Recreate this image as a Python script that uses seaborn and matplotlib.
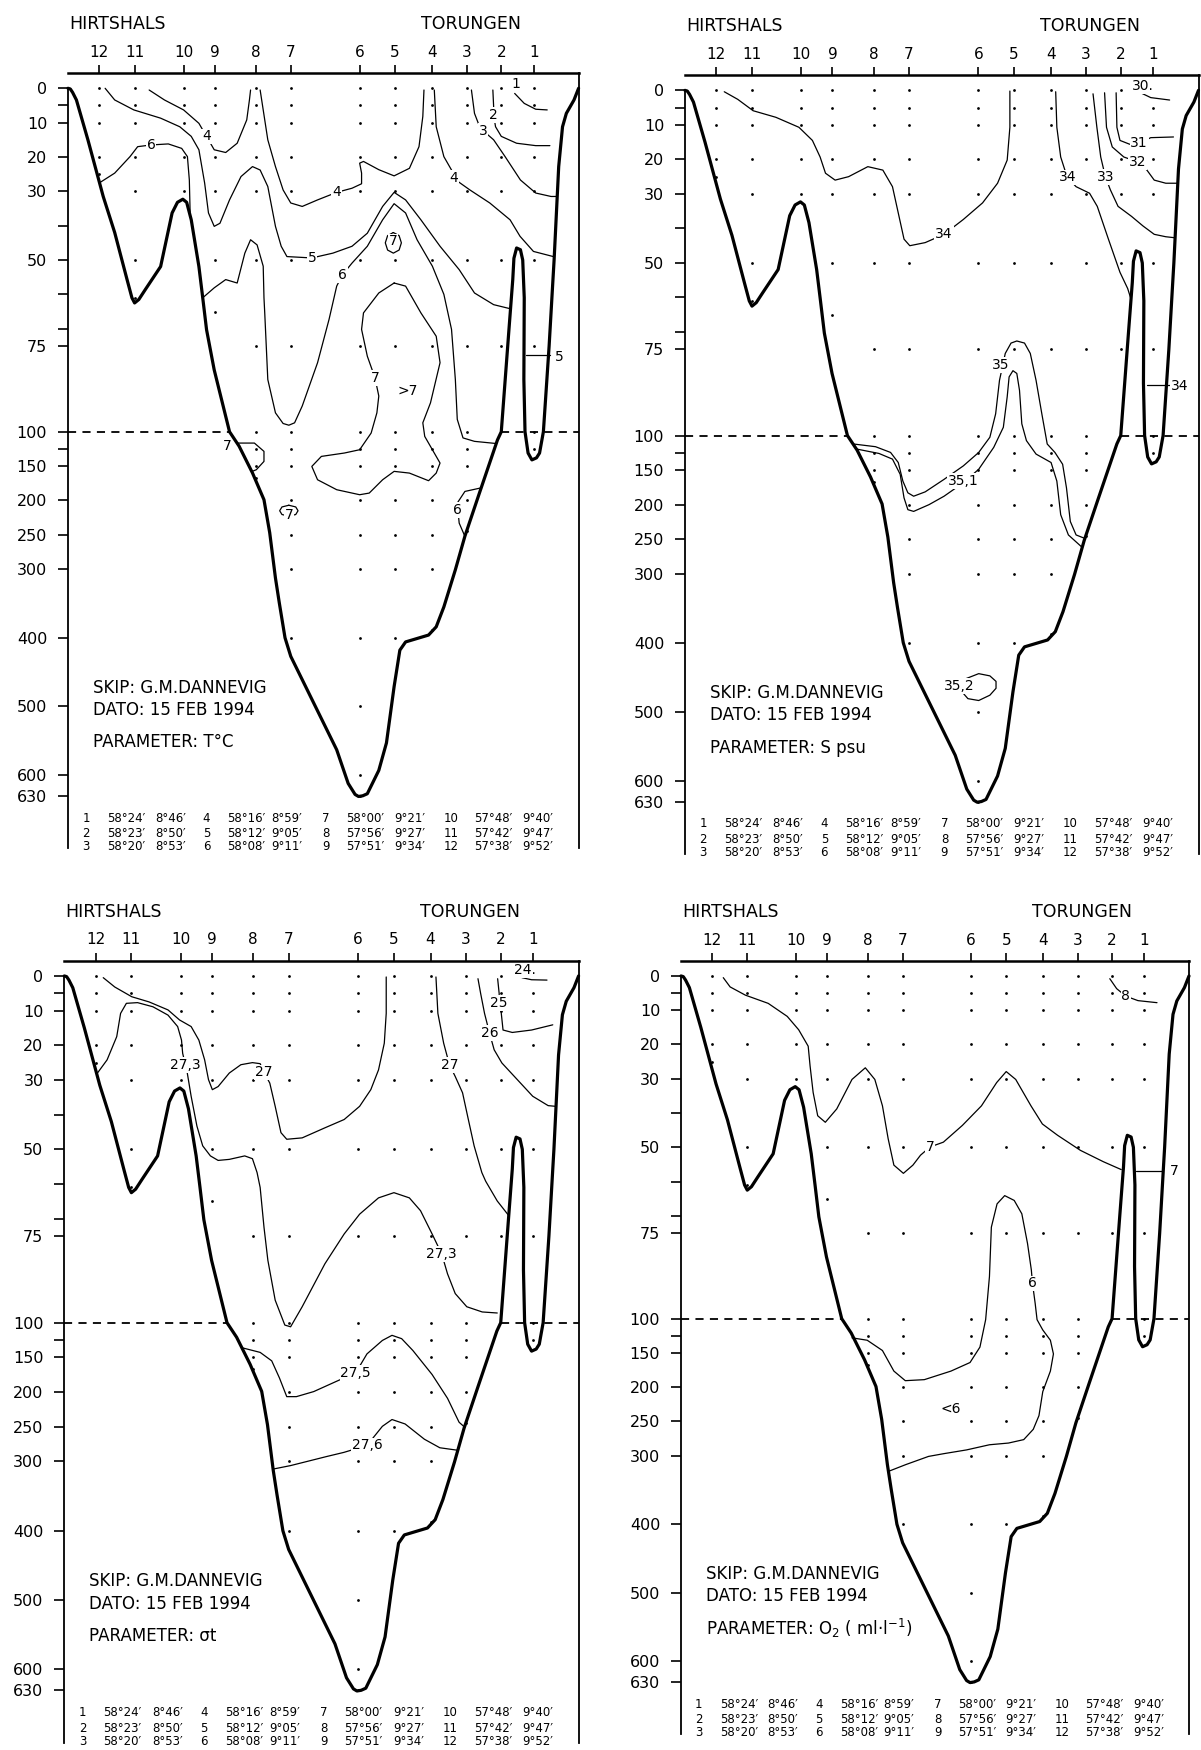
import numpy as np
import pandas as pd
import matplotlib
matplotlib.use("Agg")
import matplotlib.pyplot as plt
import seaborn as sns

sns.set_theme(style="white", rc={
    "axes.edgecolor": "black", "text.color": "black",
    "xtick.color": "black", "ytick.color": "black",
    "axes.labelcolor": "black"})
plt.rcParams["font.family"] = ["DejaVu Sans"]

# ---------------------------------------------------------------- data
station_names = ["12", "11", "10", "9", "8", "7", "6", "5", "4", "3", "2", "1"]
station_km = [8.1, 17.4, 30.2, 38.3, 49.0, 58.2, 76.2, 85.4, 95.0, 104.2, 113.2, 121.7]
sample_depths = [
    [0, 5, 10, 20, 25],
    [0, 5, 10, 20, 30, 50, 61],
    [0, 5, 10, 20, 30],
    [0, 5, 10, 20, 30, 50, 65],
    [0, 5, 10, 20, 30, 50, 75, 100, 125, 150, 167],
    [0, 5, 10, 20, 30, 50, 75, 100, 125, 150, 200, 250, 300, 400],
    [0, 5, 10, 20, 30, 50, 75, 100, 125, 150, 200, 250, 300, 400, 500, 600, 630],
    [0, 5, 10, 20, 30, 50, 75, 100, 125, 150, 200, 250, 300, 400],
    [0, 5, 10, 20, 30, 50, 75, 100, 125, 150, 200, 250, 300, 388],
    [0, 5, 10, 20, 30, 50, 75, 100, 125, 150, 200, 245],
    [0, 5, 10, 20, 30, 50, 75],
    [0, 5, 10, 20, 30, 50, 75, 100, 125],
]
depth_ticks = [0, 10, 20, 30, 50, 75, 100, 150, 200, 250, 300, 400, 500, 600, 630]
depth_minor_ticks = [5, 40, 60, 70, 125]

# sea-floor profile along the section (km, m)
bottom_profile = [
    (0.0, 0), (0.6, 0.2), (1.2, 1.2), (2.2, 3.4), (5.2, 15), (9.2, 31.5), (12.2, 42),
    (15.5, 56), (16.7, 61), (17.4, 62.5), (18.5, 61.5), (20.2, 58.6), (24.2, 51.9),
    (27.2, 36.3), (28.6, 33.2), (30.0, 32.3), (31.0, 33.2), (32.2, 38.3), (34.2, 51.9),
    (35.2, 61), (36.2, 70.3), (38.2, 82), (42.2, 100), (44.7, 121), (48.2, 160),
    (51.2, 199), (52.7, 247), (54.2, 313), (55.2, 349), (56.7, 400), (58.2, 427),
    (64.2, 495), (70.2, 563), (73.2, 612), (75.0, 628), (75.9, 631), (77.0, 630),
    (78.2, 627), (81.2, 593), (83.2, 553), (85.2, 471), (86.7, 418), (88.2, 406),
    (94.2, 396), (96.2, 384), (98.2, 355), (101.2, 301), (103.7, 252), (107.2, 194),
    (112.2, 112), (113.2, 100), (115.2, 70.3), (116.2, 55.7), (116.5, 49.5),
    (117.2, 46.5), (118.2, 47), (118.8, 50), (119.2, 61), (119.1, 84.8), (119.4, 100),
    (120.2, 131), (121.2, 141), (122.4, 138), (123.2, 131), (124.2, 100), (125.7, 75),
    (126.7, 55.7), (127.0, 50), (128.2, 22.8), (129.2, 11.2), (130.2, 7.3),
    (132.2, 3.4), (133.4, 0),
]

# ---- temperature isolines (km, m)
T_4_LEFT = [(21.2, 0.5), (25.2, 3.4), (30.2, 6.3), (34.2, 10.2), (36.7, 15), (38.2, 17.9),
            (41.2, 18.7), (44.2, 16), (46.7, 9.2), (47.4, 3.4), (47.7, 0.5)]
T_6_LEFT = [(8.4, 27.4), (12.2, 24.7), (16.2, 19.9), (18.2, 17), (21.7, 16.5), (26.2, 16.2),
            (29.7, 17.5), (31.2, 19.9), (31.7, 26.7), (31.9, 36)]
T_4_MID = [(50.2, 0.5), (51.0, 6.3), (52.2, 15), (54.2, 22.8), (56.2, 29.6), (58.2, 33.4),
           (61.2, 34.4), (65.2, 32.5), (70.2, 30.3), (74.2, 29.1), (76.7, 27.8), (76.7, 24.7),
           (76.2, 21.8), (77.2, 21.3), (81.2, 23.7), (85.2, 25.5), (89.2, 23.3), (91.7, 17),
           (92.7, 8.2), (93.0, 0.5)]
T_4_RIGHT = [(95.7, 0.5), (96.2, 11.2), (98.2, 19.9), (100.2, 23.8), (100.7, 26.2),
             (105.0, 29.6), (110.2, 33.4), (115.5, 38.3), (118.1, 43.1), (121.6, 47.5),
             (126.8, 49.0)]
T_3 = [(105.4, 0.5), (106.2, 7.3), (107.2, 10.2), (108.4, 12.3), (111.2, 15), (114.2, 19.9),
       (118.2, 26.7), (122.2, 30.5), (126.2, 31.5), (127.7, 31.5)]
T_2 = [(111.0, 0.5), (111.2, 5.3), (111.2, 7.8), (111.7, 11.2), (113.2, 14), (117.2, 16),
       (122.2, 16.7), (125.9, 16.7)]
T_1 = [(116.7, 1.5), (119.2, 4.4), (122.2, 6.1), (125.2, 6.3)]
T_5 = [(9.7, 0), (12.2, 3.4), (17.2, 6.3), (24.2, 8.7), (29.2, 11.2), (32.2, 14), (34.2, 17.9),
       (35.7, 27.6), (36.7, 36.3), (38.2, 40.2), (39.7, 39.3), (42.2, 32.5), (45.2, 25.7),
       (48.2, 22.8), (50.2, 23.8), (52.2, 28.6), (54.2, 40.2), (55.7, 46), (57.2, 49),
       (63.7, 49.4), (69.2, 48), (74.2, 46), (78.2, 42.2), (82.2, 34.4), (85.2, 30.3),
       (88.2, 32.5), (92.2, 38.3), (97.2, 46), (102.2, 52.8), (106.2, 59.6), (111.2, 63),
       (115.6, 64.2)]
T_6_MAIN = [(35.2, 61), (38.2, 58.1), (41.2, 55.7), (44.2, 56.7), (46.2, 48), (47.7, 44.1),
            (49.4, 45.6), (51.0, 51.8), (51.2, 61), (51.4, 65.4), (52.2, 84.8), (54.2, 94.5),
            (56.2, 97.6), (57.7, 98.1), (59.2, 97.4), (61.2, 92.5), (65.2, 79.9), (68.2, 67.3),
            (70.2, 57.6), (71.7, 54.3), (74.2, 50.9), (78.2, 46), (82.2, 38.3), (85.2, 33.6),
            (88.2, 36.3), (91.2, 44.1), (95.2, 51.8), (98.2, 60), (100.2, 70.2), (101.2, 84.8),
            (101.7, 96.4), (103.2, 109), (106.2, 114), (111.6, 117)]
T_7_SMALL = [(85.0, 42.0), (86.5, 42.9), (87.1, 45.0), (86.5, 47.1), (85.0, 48.0),
             (83.5, 47.1), (82.9, 45.0), (83.5, 42.9), (85.0, 42.0)]
T_GT7 = [(85.2, 56.7), (81.2, 59.6), (77.2, 65.4), (76.7, 70.2), (78.2, 78), (80.2, 84.3),
         (81.2, 89.6), (80.7, 94.5), (79.2, 101.9), (76.2, 126.2), (72.2, 131), (66.2, 135.9),
         (63.7, 150.5), (65.2, 169.9), (70.2, 184.4), (76.2, 191.7), (78.7, 189.3),
         (82.2, 169.9), (85.2, 157.7), (89.2, 160.2), (94.2, 171.3), (96.2, 160.2),
         (97.2, 145.6), (95.2, 126.2), (93.2, 106.8), (92.7, 97.4), (94.7, 91.6),
         (97.2, 79.9), (96.2, 72.2), (92.2, 65.4), (88.2, 57.6), (85.2, 56.7)]
T_7_SLOPE = [(44.2, 116.5), (48.7, 116.5), (51.2, 128.6), (51.2, 143.2), (49.2, 155.3),
             (48.0, 158)]
T_7_CIRCLE = [(57.7, 207), (59.5, 209.5), (60.1, 215), (59.5, 220.5), (57.7, 223),
              (55.9, 220.5), (55.3, 215), (55.9, 209.5), (57.7, 207)]
T_6_DEEP = [(107.7, 182), (103.7, 186.9), (101.7, 203.8), (102.2, 233), (103.7, 252.4)]
T_5_TROUGH = [(119.6, 77.8), (125.8, 77.8)]
T_LABELS = [("4", 36.2, 14), ("6", 21.7, 16.5), ("4", 70.2, 30.3), ("4", 100.7, 26.2),
            ("3", 108.4, 12.3), ("2", 111.2, 7.8), ("1", 116.9, -1.2), ("5", 63.7, 49.4),
            ("6", 71.7, 54.3), ("7", 84.9, 44.6), ("7", 80.2, 84.3), (">7", 88.7, 88.2),
            ("7", 41.6, 121.3), ("7", 57.7, 221), ("6", 101.7, 213.5), ("5", 128.4, 78.2)]

# ---- salinity isolines
S_34_MAIN = [(10.2, 0.4), (13.7, 2.6), (17.7, 5.9), (23.6, 7.8), (29.6, 10.7), (33.1, 14.5),
             (35.1, 19.3), (36.5, 24), (39.0, 26), (42.5, 25), (47.5, 22.1), (51.4, 23.1),
             (53.9, 27.9), (55.4, 35.5), (56.9, 43.1), (58.4, 45), (62.4, 44.1), (67.3, 41.7),
             (72.3, 37.4), (77.3, 32.6), (81.2, 26.9), (83.7, 20.2), (84.4, 10.7), (84.4, 0.2)]
S_34_RIGHT = [(96.3, 0.4), (96.6, 10.7), (97.6, 19.3), (99.3, 25.2), (101.6, 27.9),
              (105.1, 29.8), (107.1, 33.6), (110.0, 43.1), (113.0, 52.7), (115.0, 57.4),
              (115.9, 60.6)]
S_34_TROUGH = [(119.9, 85.4), (125.9, 85.4)]
S_33 = [(106.0, 1), (107.0, 10.7), (108.0, 19.3), (109.2, 25), (110.5, 28.8), (112.5, 33.6),
        (116.0, 36.5), (119.0, 39.3), (121.9, 41.7), (124.9, 42.4), (127.3, 42.7)]
S_32 = [(109.0, 0.7), (109.5, 10.7), (111.0, 16.4), (114.0, 19.3), (117.5, 20.7),
        (120.0, 23.1), (121.9, 26), (124.9, 26.9), (127.8, 26.9)]
S_31 = [(112.0, 0.7), (112.2, 10.7), (113.0, 14.5), (115.5, 15.6), (118.0, 15.3),
        (121.0, 13.7), (126.9, 13.5)]
S_30 = [(118.0, 0.5), (121.0, 2.1), (125.9, 2.8)]
S_35 = [(43.8, 112.2), (49.5, 116.1), (53.4, 124.4), (55.4, 139), (56.6, 165.9), (57.9, 182.9),
        (59.4, 187.8), (62.4, 181.5), (67.3, 163.4), (72.3, 143.9), (76.3, 124.4),
        (79.2, 102.4), (80.7, 93.7), (81.7, 84), (83.2, 76.2), (84.7, 73.2), (86.2, 72.6),
        (88.2, 73.2), (89.7, 76.2), (91.2, 84), (92.7, 93.7), (94.1, 112.2), (96.1, 124.4),
        (98.1, 141.5), (99.1, 175.6), (100.1, 224.4), (101.6, 243.9), (103.9, 249)]
S_35_1 = [(44.6, 119.5), (50.4, 125.9), (53.9, 134.1), (55.9, 156.1), (56.9, 190.2),
          (57.9, 207.3), (59.4, 209.8), (63.4, 200), (67.3, 187.8), (72.3, 168.3),
          (76.3, 148.8), (80.2, 117.1), (82.7, 97.6), (83.7, 88.8), (84.2, 83), (85.2, 81.2),
          (86.2, 82), (86.9, 86.9), (87.5, 96.6), (88.7, 107.3), (91.2, 126.8), (95.1, 139),
          (96.6, 165.9), (97.6, 214.6), (99.6, 243.9), (103.2, 262)]
S_35_2 = [(73.0, 452), (76.3, 444.8), (79.2, 448), (80.8, 456), (80.8, 466), (79.2, 476),
          (76.3, 483.7), (73.5, 481), (72.4, 474)]
S_LABELS = [("34", 67.3, 41.7), ("34", 99.3, 25.2), ("33", 109.2, 25), ("32", 117.5, 20.7),
            ("31", 118.0, 15.3), ("30.", 119.0, -1.2), ("35", 82.0, 79.5), ("35,1", 72.3, 166),
            ("34", 128.6, 85.7), ("35,2", 71.3, 463)]

# ---- sigma-t isolines
R_27_MAIN = [(10.1, 0.5), (13.1, 3.2), (17.5, 6), (22.0, 7.5), (26.9, 9.8), (29.9, 12.7),
             (32.9, 14.6), (34.9, 18.5), (36.4, 24.2), (37.4, 29.9), (38.4, 32.8), (39.9, 31.9),
             (42.8, 28), (45.8, 25.6), (48.8, 25), (50.8, 25.3), (51.8, 27.8), (53.3, 30.9),
             (54.7, 37.6), (56.2, 45.2), (57.7, 47.1), (61.7, 46.7), (67.6, 43.8), (72.6, 41.4),
             (76.6, 37.6), (79.5, 32.8), (81.5, 27.1), (83.0, 19.4), (83.5, 10.8), (83.5, 0.3)]
R_27_3 = [(8.6, 28), (11.1, 24.2), (13.6, 17.5), (14.6, 10.8), (16.1, 7.9), (19.0, 7.7),
          (23.0, 8.9), (26.9, 11.3), (29.4, 14.6), (30.4, 18.5), (30.7, 22.3), (31.4, 25.6),
          (31.9, 28), (32.9, 34.7), (34.4, 43.3), (35.9, 49), (37.9, 51.9), (39.9, 53.2),
          (42.8, 52.9), (46.8, 51.9), (48.8, 52.7), (50.0, 56.7), (50.8, 61), (51.8, 72.5),
          (52.8, 82), (54.7, 93.5), (57.2, 103.4), (58.7, 105.9), (61.7, 95.4), (67.6, 83),
          (72.6, 74.4), (76.6, 68.7), (81.5, 64), (85.5, 62.5), (89.5, 64), (92.4, 67.7),
          (95.4, 74.4), (97.9, 80.2), (99.4, 85.9), (101.4, 91.6), (104.4, 95.4),
          (108.4, 96.9), (112.3, 97.2)]
R_27_RIGHT = [(96.4, 0.3), (96.9, 10.8), (98.4, 19.4), (99.9, 25.6), (101.4, 29),
              (103.3, 33.7), (104.8, 41.4), (106.3, 49), (108.3, 56.7), (109.3, 59.2),
              (112.3, 64.9), (115.2, 69)]
R_26 = [(107.3, 0.8), (108.0, 5.1), (109.0, 10.8), (110.3, 16.5), (111.5, 21.3), (113.5, 25.1),
        (117.5, 29.9), (121.5, 34.7), (125.5, 37.4), (127.4, 37.6)]
R_25 = [(112.4, 0.8), (112.8, 5.1), (112.8, 7.9), (113.3, 10.3), (113.8, 15.6), (116.2, 16.3),
        (121.2, 15.6), (126.7, 14.1)]
R_24 = [(118.7, 0.5), (121.2, 1.1), (125.2, 1.2)]
R_27_5 = [(46.3, 136.4), (50.8, 142.8), (53.8, 155), (55.8, 179.6), (57.7, 206.6),
          (60.2, 206.6), (64.7, 199.3), (70.6, 184.5), (75.6, 172.2), (78.5, 145),
          (82.5, 125.6), (85.0, 118.2), (87.5, 123), (90.4, 140), (95.4, 174.7), (99.4, 209),
          (102.4, 243.5), (103.9, 250.9)]
R_27_6 = [(54.2, 311), (58.7, 306), (63.0, 300), (68.0, 293), (72.5, 287), (78.5, 277),
          (82.5, 249.4), (85.0, 239.6), (88.4, 246), (93.4, 268), (97.4, 280.3), (101.9, 283.8)]
R_LABELS = [("27,3", 31.4, 25.6), ("27", 51.8, 27.8), ("27", 99.9, 25.6), ("26", 110.3, 16.5),
            ("25", 112.8, 7.9), ("24.", 119.4, -1.6), ("27,3", 97.9, 80.2),
            ("27,5", 75.6, 172.2), ("27,6", 78.5, 277)]

# ---- oxygen isolines
O_7 = [(11.1, 0.5), (12.9, 3.2), (16.9, 5.6), (22.9, 8), (27.9, 11.8), (30.9, 15.7),
       (33.4, 20.5), (33.9, 26.3), (34.7, 34), (35.9, 40.8), (37.9, 42.7), (40.9, 38.8),
       (44.9, 30.2), (48.4, 26.8), (50.9, 30.2), (52.9, 37.9), (54.4, 47.5), (55.9, 55.2),
       (58.4, 57.6), (60.9, 55.2), (62.9, 52.3), (65.4, 49.9), (68.9, 48.5), (73.9, 43.6),
       (78.9, 37.9), (82.9, 31.1), (85.4, 27.9), (87.9, 30.2), (91.9, 37.9), (94.9, 43.2),
       (98.9, 46.5), (104.9, 50.9), (110.9, 54.2), (115.6, 56.5)]
O_7_TROUGH = [(119.6, 56.8), (126.6, 56.8)]
O_8 = [(112.6, 0.8), (114.4, 3.7), (116.8, 5.9), (120.0, 7.2), (125.0, 7.8)]
O_6 = [(44.9, 128), (48.9, 131.5), (52.9, 146.5), (55.9, 176.5), (58.9, 190.5), (63.9, 189),
       (70.9, 176.5), (75.9, 164), (78.5, 141.5), (80.0, 101.5), (81.0, 87.7), (81.5, 73.3),
       (83.0, 66.5), (85.0, 64.1), (87.5, 65.5), (89.5, 69.4), (91.0, 78.1), (92.0, 85.8),
       (92.3, 89.7), (93.0, 95.5), (93.5, 101.5), (95.0, 116.5), (97.0, 131.5),
       (97.8, 151.5), (97.0, 176.5), (95.0, 206.5), (94.0, 241.5), (92.5, 261.5),
       (90.0, 276.5), (86.0, 281.5), (81.0, 284), (75.0, 291.5), (69.0, 297), (65.0, 301),
       (59.0, 313), (54.4, 323)]
O_LABELS = [("7", 65.4, 49.9), ("7", 129.6, 56.8), ("8", 116.8, 5.9), ("6", 92.3, 89.7),
            ("<6", 70.9, 232.5)]

coord_station = ["1", "2", "3", "4", "5", "6", "7", "8", "9", "10", "11", "12"]
coord_lat = ["58°24′", "58°23′", "58°20′", "58°16′", "58°12′", "58°08′",
             "58°00′", "57°56′", "57°51′", "57°48′", "57°42′", "57°38′"]
coord_lon = ["8°46′", "8°50′", "8°53′", "8°59′", "9°05′", "9°11′",
             "9°21′", "9°27′", "9°34′", "9°40′", "9°47′", "9°52′"]

ship_text = "SKIP: G.M.DANNEVIG"
date_text = "DATO: 15 FEB 1994"
panels = [
    dict(rect=(68, 73, 578.6, 848), param="PARAMETER: T°C",
         lines=[T_4_LEFT, T_6_LEFT, T_4_MID, T_4_RIGHT, T_3, T_2, T_1, T_5, T_6_MAIN,
                T_7_SMALL, T_GT7, T_7_SLOPE, T_7_CIRCLE, T_6_DEEP, T_5_TROUGH],
         labels=T_LABELS),
    dict(rect=(685, 75, 1198.5, 854), param="PARAMETER: S psu",
         lines=[S_34_MAIN, S_34_RIGHT, S_34_TROUGH, S_33, S_32, S_31, S_30, S_35, S_35_1,
                S_35_2],
         labels=S_LABELS),
    dict(rect=(64.3, 960.5, 578.6, 1743), param="PARAMETER: σt",
         lines=[R_27_MAIN, R_27_3, R_27_RIGHT, R_26, R_25, R_24, R_27_5, R_27_6],
         labels=R_LABELS),
    dict(rect=(681, 960.7, 1189, 1734), param=r"PARAMETER: O$_2$ ( ml·l$^{-1}$)",
         lines=[O_7, O_7_TROUGH, O_8, O_6],
         labels=O_LABELS),
]

# ---------------------------------------------------------------- helpers
def fwd(d):
    d = np.asarray(d, dtype=float)
    return np.where(d <= 100, d, 100 + 0.2 * (d - 100))


def inv(t):
    t = np.asarray(t, dtype=float)
    return np.where(t <= 100, t, 100 + (t - 100) / 0.2)


W, H = 1201, 1750
fig = plt.figure(figsize=(W / 100, H / 100), dpi=100)

dots = pd.DataFrame([(x, d) for x, ds in zip(station_km, sample_depths) for d in ds],
                    columns=["km", "depth"])
bottom_df = pd.DataFrame(bottom_profile, columns=["km", "depth"])

for p in panels:
    l, t, r, b = p["rect"]
    ax = fig.add_axes([l / W, 1 - b / H, (r - l) / W, (b - t) / H])
    ax.set_yscale("function", functions=(fwd, inv))
    y_bottom = float(inv(221.2))
    ax.set_xlim(0, 133.4)
    ax.set_ylim(y_bottom, -4.45)

    # isolines
    iso = pd.concat([pd.DataFrame(seg, columns=["km", "depth"]).assign(seg=i)
                     for i, seg in enumerate(p["lines"])], ignore_index=True)
    sns.lineplot(data=iso, x="km", y="depth", units="seg", estimator=None, sort=False,
                 color="black", linewidth=0.9, ax=ax, legend=False)

    # sample points
    sns.scatterplot(data=dots, x="km", y="depth", s=4, color="black", linewidth=0,
                    ax=ax, legend=False, zorder=2)

    # 100 m break line
    ax.plot([0, 42.2], [100, 100], color="black", lw=1.3, ls=(0, (4.5, 3.5)), zorder=2)
    ax.plot([113.2, 133.4], [100, 100], color="black", lw=1.3, ls=(0, (4.5, 3.5)), zorder=2)

    # sea floor
    n_before = len(ax.lines)
    sns.lineplot(data=bottom_df, x="km", y="depth", estimator=None, sort=False,
                 color="black", linewidth=2.3, ax=ax, legend=False)
    for ln in ax.lines[n_before:]:
        ln.set_clip_on(False)
        ln.set_zorder(4)
        ln.set_solid_capstyle("round")
        ln.set_solid_joinstyle("round")

    # isoline labels
    for txt, x, d in p["labels"]:
        ax.text(x, d, txt, ha="center", va="center", fontsize=10, zorder=5,
                bbox=dict(facecolor="white", edgecolor="none", pad=0.6))

    # axes styling
    ax.set_xlabel("")
    ax.set_ylabel("")
    ax.xaxis.set_ticks_position("top")
    ax.set_xticks(station_km)
    ax.set_xticklabels(station_names)
    ax.tick_params(axis="x", which="major", top=True, bottom=False, direction="out",
                   length=6, width=1.2, pad=3.5, labelsize=11)
    ax.set_yticks(depth_ticks)
    ax.set_yticklabels([str(v) for v in depth_ticks])
    ax.set_yticks(depth_minor_ticks, minor=True)
    ax.tick_params(axis="y", which="both", left=True, direction="out", length=7.5,
                   width=1.2, pad=7.5, labelsize=11.5)
    ax.tick_params(axis="y", which="minor", labelleft=False)
    for side in ("left", "right", "top"):
        ax.spines[side].set_visible(True)
        ax.spines[side].set_color("black")
    ax.spines["bottom"].set_visible(False)
    ax.spines["left"].set_linewidth(1.3)
    ax.spines["right"].set_linewidth(1.3)
    ax.spines["top"].set_linewidth(1.8)
    ax.spines["left"].set_bounds(0, y_bottom)

    # end names
    for name, x in (("HIRTSHALS", 0.2), ("TORUNGEN", 92.2)):
        ax.annotate(name, xy=(x, 1), xycoords=("data", "axes fraction"),
                    xytext=(0, 31.5), textcoords="offset points", ha="left",
                    va="baseline", fontsize=12.5)

    # ship / date / parameter
    ax.text(6.5, 473, ship_text, ha="left", va="center", fontsize=12)
    ax.text(6.5, 505, date_text, ha="left", va="center", fontsize=12)
    ax.text(6.5, 552, p["param"], ha="left", va="center", fontsize=12)

    # station coordinate table
    num_x = [4.7, 36.2, 67.4, 100.0]
    lat_x = [10.2, 41.7, 72.7, 106.2]
    lon_x = [22.7, 53.2, 85.2, 118.7]
    row_d = [662.5, 684.5, 704.0]
    for g in range(4):
        for rr in range(3):
            k = 3 * g + rr
            ax.text(num_x[g], row_d[rr], coord_station[k], ha="center", va="center",
                    fontsize=8.5, clip_on=False)
            ax.text(lat_x[g], row_d[rr], coord_lat[k], ha="left", va="center",
                    fontsize=8.5, clip_on=False)
            ax.text(lon_x[g], row_d[rr], coord_lon[k], ha="left", va="center",
                    fontsize=8.5, clip_on=False)

fig.savefig("out.png", dpi=100, facecolor="white")
